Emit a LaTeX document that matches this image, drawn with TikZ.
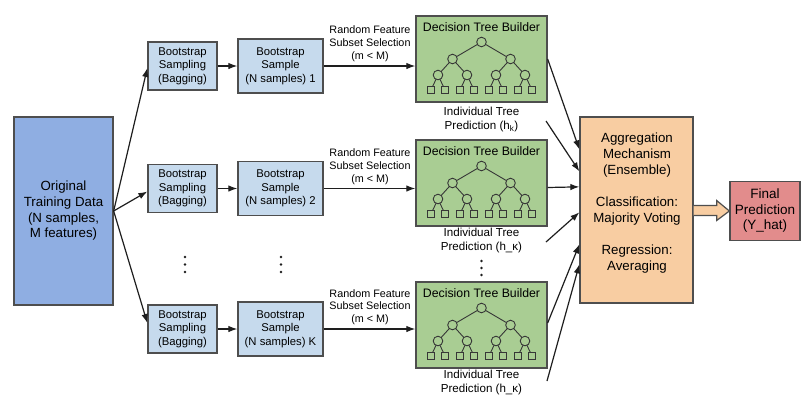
\documentclass[tikz,border=0pt]{standalone}
\usepackage{fontspec}
\setmainfont{Liberation Sans}
\usetikzlibrary{arrows.meta,calc}

\definecolor{origblue}{RGB}{143,174,226}
\definecolor{bootblue}{RGB}{198,218,237}
\definecolor{treegreen}{RGB}{169,205,147}
\definecolor{aggpeach}{RGB}{248,205,162}
\definecolor{finalred}{RGB}{226,140,140}
\definecolor{bordergray}{RGB}{78,78,78}
\definecolor{linedark}{RGB}{30,30,30}
\definecolor{glyphgray}{RGB}{55,55,55}

% small binary tree drawn inside a builder box; #1 = y of the box bottom
\newcommand\dtree[1]{%
  \begin{scope}[shift={(0,#1)}]
    \draw[glyphline] (481.5,-60) -- (452.5,-43) (481.5,-60) -- (510.5,-43)
      (452.5,-43) -- (438,-27) (452.5,-43) -- (467,-27)
      (510.5,-43) -- (496,-27) (510.5,-43) -- (525,-27);
    \foreach \x in {438,467,496,525}
      \draw[glyphline] (\x,-27) -- (\x-7,-12) (\x,-27) -- (\x+7,-12);
    \foreach \x/\y in {481.5/-60,452.5/-43,510.5/-43,438/-27,467/-27,496/-27,525/-27}
      \filldraw[glyph] (\x,\y) circle (4.8pt);
    \foreach \x in {438,467,496,525} {
      \filldraw[glyph] (\x-10.8,-15.8) rectangle ++(7.6,7.6);
      \filldraw[glyph] (\x+3.2,-15.8) rectangle ++(7.6,7.6);
    }
  \end{scope}}

\begin{document}
\begin{tikzpicture}[x=1pt,y=-1pt,
  box/.style={draw=bordergray,line width=1.3pt,inner sep=0pt,align=center},
  bootbox/.style={box,fill=bootblue,font=\fontsize{11.3}{13.5}\selectfont},
  treebox/.style={box,fill=treegreen,minimum width=131pt,minimum height=86pt},
  treetitle/.style={font=\fontsize{12.3}{14}\selectfont,inner sep=0pt},
  predlabel/.style={font=\fontsize{11.6}{13.8}\selectfont,align=center,inner sep=0pt},
  featlabel/.style={font=\fontsize{10.8}{12.8}\selectfont,align=center,inner sep=0pt},
  conn/.style={draw=linedark,line width=1.2pt,-{Latex[length=9pt,width=6.5pt]}},
  glyphline/.style={draw=glyphgray,line width=0.9pt},
  glyph/.style={draw=glyphgray,line width=0.9pt,fill=treegreen},
  blockarrow/.style={fill=aggpeach,draw=bordergray,line width=1.2pt,line join=miter},
  vdot/.style={fill=linedark}]

\useasboundingbox[fill=white] (0,0) rectangle (801,400);

% input data
\node[box,fill=origblue,minimum width=99pt,minimum height=188pt,
      font=\fontsize{13.3}{15.7}\selectfont] (orig) at (63.5,211)
  {Original\\Training Data\\(N samples,\\M features)};

% bootstrap rows
\node[bootbox,minimum width=69pt,minimum height=48pt] (sp1) at (182.5,66) {Bootstrap\\Sampling\\(Bagging)};
\node[bootbox,minimum width=85pt,minimum height=54pt] (sa1) at (280.5,66) {Bootstrap\\Sample\\(N samples) 1};
\node[bootbox,minimum width=69pt,minimum height=48pt] (sp2) at (182.5,188.5) {Bootstrap\\Sampling\\(Bagging)};
\node[bootbox,minimum width=85pt,minimum height=54pt] (sa2) at (280.5,188.5) {Bootstrap\\Sample\\(N samples) 2};
\node[bootbox,minimum width=69pt,minimum height=48pt] (sp3) at (182.5,329) {Bootstrap\\Sampling\\(Bagging)};
\node[bootbox,minimum width=85pt,minimum height=54pt] (sa3) at (280.5,329) {Bootstrap\\Sample\\(N samples) K};

% tree builders
\node[treebox] (t1) at (481.5,59) {};
\node[treebox] (t2) at (481.5,183) {};
\node[treebox] (t3) at (481.5,325) {};
\node[treetitle] (tt1) at (481.5,27.5) {Decision Tree Builder};
\node[treetitle] (tt2) at (481.5,151.5) {Decision Tree Builder};
\node[treetitle] (tt3) at (481.5,293.5) {Decision Tree Builder};
\dtree{102}
\dtree{226}
\dtree{368}

\node[predlabel] (pr1) at (481.5,119.5) {Individual Tree\\Prediction (h\textsubscript{k})};
\node[predlabel] (pr2) at (481.5,240.5) {Individual Tree\\Prediction (h\_κ)};
\node[predlabel] (pr3) at (481.5,382.5) {Individual Tree\\Prediction (h\_κ)};

\node[featlabel] (rf1) at (370,44) {Random Feature\\Subset Selection\\(m < M)};
\node[featlabel] (rf2) at (370,166.5) {Random Feature\\Subset Selection\\(m < M)};
\node[featlabel] (rf3) at (370,307) {Random Feature\\Subset Selection\\(m < M)};

% ellipsis dots between rows
\foreach \x in {185,281} \foreach \y in {257,264.5,272} \fill[vdot] (\x,\y) circle (1.4pt);
\foreach \y in {261,268,275} \fill[vdot] (481.5,\y) circle (1.4pt);

% aggregation and output
\node[box,fill=aggpeach,minimum width=113pt,minimum height=186pt] (agg) at (636.5,210) {};
\node[font=\fontsize{13.3}{16}\selectfont,align=center,inner sep=0pt] (aggtxt) at (637,203)
  {Aggregation\\Mechanism\\(Ensemble)\\[16pt]Classification:\\Majority Voting\\[16pt]Regression:\\Averaging};
\node[box,fill=finalred,minimum width=70pt,minimum height=59pt,
      font=\fontsize{13.5}{15.5}\selectfont] (final) at (765,211) {Final\\Prediction\\(Y\_hat)};

% connectors: data to bootstrap sampling
\draw[conn] (orig.east) -- ($(sp1.west)+(0,2)$);
\draw[conn] (orig.east) -- ($(sp2.west)+(0,3)$);
\draw[conn] (orig.east) -- ($(sp3.west)+(0,-6)$);

% sampling to sample to tree builder
\foreach \r in {1,2,3} {
  \draw[conn] (sp\r.east) -- (sa\r.west);
  \draw[conn] (sa\r.east) -- (t\r.west |- sa\r.east);
}

% tree predictions into the aggregation box
\coordinate (p1) at (546,121);
\coordinate (p2) at (546,242);
\coordinate (p3) at (547,381);
\draw[conn] (t1.east) -- ($(agg.north west)+(0,33)$);
\draw[conn] (p1) -- ($(agg.north west)+(0,55)$);
\draw[conn] ($(t2.east)+(0,4.5)$) -- ($(agg.north west)+(0,70.5)$);
\draw[conn] (p2) -- ($(agg.north west)+(0,96)$);
\draw[conn] ($(t3.east)+(0,-2)$) -- ($(agg.north west)+(0,128)$);
\draw[conn] (p3) -- ($(agg.north west)+(0,148)$);

% hollow block arrow to the final prediction
\filldraw[blockarrow] ($(agg.east)+(0,-4.5)$) -- ($(agg.east)+(23,-4.5)$)
  -- ($(agg.east)+(23,-9.5)$) -- (final.west) -- ($(agg.east)+(23,10.5)$)
  -- ($(agg.east)+(23,5.5)$) -- ($(agg.east)+(0,5.5)$);

\end{tikzpicture}
\end{document}
